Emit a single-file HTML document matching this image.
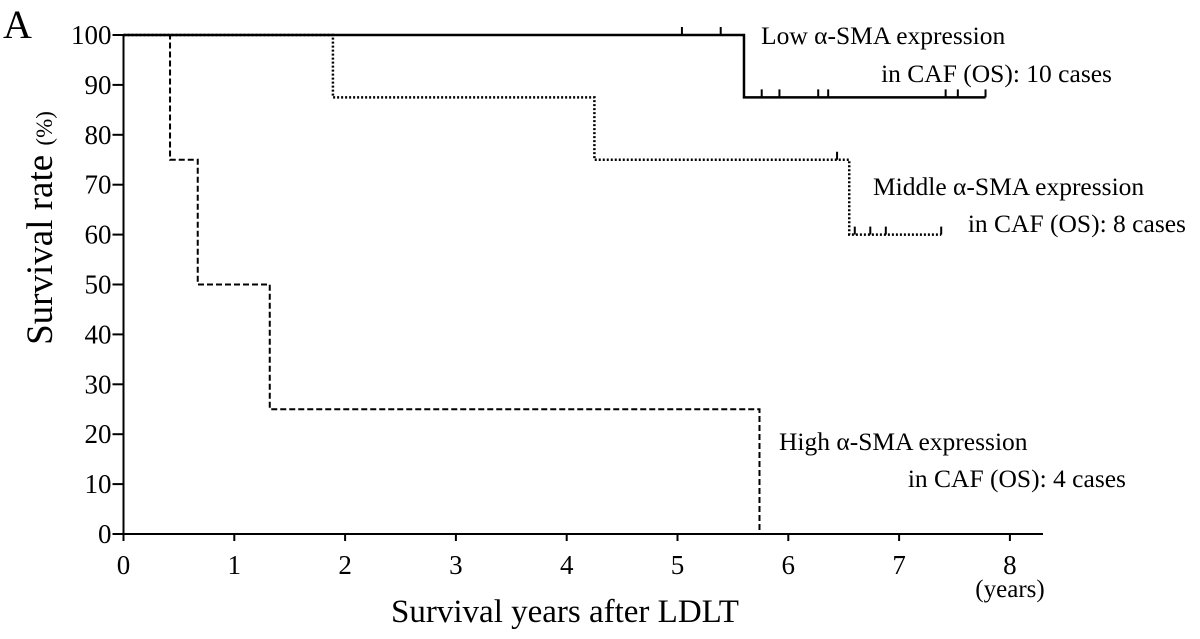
<!DOCTYPE html>
<html><head><meta charset="utf-8"><style>
body{margin:0;background:#fff}
svg{display:block;font-family:"Liberation Serif",serif}
</style></head><body>
<svg id="chart" width="1200" height="639" viewBox="0 0 1200 639" xmlns="http://www.w3.org/2000/svg">
<text x="3" y="38" font-size="40">A</text>
<g id="axes"></g>
<g id="series"></g>
<text x="565" y="622" font-size="33" text-anchor="middle">Survival years after LDLT</text>
<text x="1010" y="597" font-size="25" text-anchor="middle">(years)</text>
<text transform="translate(52,228) rotate(-90)" font-size="37" text-anchor="middle">Survival  rate <tspan font-size="23">(%)</tspan></text>
<g font-size="25.5">
<text x="761" y="44">Low α-SMA expression</text>
<text x="1112" y="82" text-anchor="end">in CAF (OS): 10 cases</text>
<text x="873" y="195">Middle α-SMA expression</text>
<text x="1186" y="232" text-anchor="end">in CAF (OS): 8 cases</text>
<text x="779" y="450">High α-SMA expression</text>
<text x="1126" y="487" text-anchor="end">in CAF (OS): 4 cases</text>
</g>
</svg>
<script>
const xTicks=[0,1,2,3,4,5,6,7,8];
const yTicks=[0,10,20,30,40,50,60,70,80,90,100];
const lowTimes=[0,5.6,7.78];
const lowSurv=[100,87.5,87.5];
const lowCensorT=[5.04,5.39,5.76,5.92,6.27,6.36,7.42,7.53,7.78];
const lowCensorS=[100,100,87.5,87.5,87.5,87.5,87.5,87.5,87.5];
const midTimes=[0,1.89,4.25,6.55,7.38];
const midSurv=[100,87.5,75,60,60];
const midCensorT=[6.44,6.6,6.74,6.88,7.38];
const midCensorS=[75,60,60,60,60];
const highTimes=[0,0.42,0.67,1.32,5.74];
const highSurv=[100,75,50,25,0];
const highEnd=5.74;
const NS="http://www.w3.org/2000/svg";
const X=t=>123.5+t*110.8, Y=s=>534-s*4.99;
function mk(tag,attrs,parent){const e=document.createElementNS(NS,tag);for(const k in attrs)e.setAttribute(k,attrs[k]);parent.appendChild(e);return e;}
const ax=document.getElementById('axes');
let e=mk('line',{x1:X(0),y1:Y(0),x2:1043,y2:Y(0),stroke:'#000','stroke-width':2},ax);


e=mk('line',{x1:X(0),y1:Y(0)+5,x2:X(0),y2:Y(100),stroke:'#000','stroke-width':2},ax);


xTicks.forEach(t=>{
 let l=mk('line',{x1:X(t),y1:Y(0),x2:X(t),y2:Y(0)+7,stroke:'#000','stroke-width':2},ax);
 
 
 let tx=mk('text',{x:X(t),y:Y(0)+40,'font-size':27,'text-anchor':'middle'},ax);tx.textContent=t;
 
 
});
yTicks.forEach(s=>{
 let l=mk('line',{x1:X(0)-11,y1:Y(s),x2:X(0),y2:Y(s),stroke:'#000','stroke-width':2},ax);
 
 
 let tx=mk('text',{x:X(0)-12,y:Y(s)+9,'font-size':27,'text-anchor':'end'},ax);tx.textContent=s;
 
 
});
const sg=document.getElementById('series');
function step(times,surv,end,dash,width,name){
 let d='M'+X(times[0])+','+Y(surv[0]);
 for(let i=1;i<times.length;i++){d+=' H'+X(times[i])+' V'+Y(surv[i]);}
 if(end!=null)d+=' H'+X(end);
 const p=mk('path',{d:d,fill:'none',stroke:'#000','stroke-width':width,'stroke-dasharray':dash},sg);
 
 
}
function cens(ts,ss,name){
 ts.forEach((t,i)=>{const l=mk('line',{x1:X(t),y1:Y(ss[i]),x2:X(t),y2:Y(ss[i])-8,stroke:'#000','stroke-width':2},sg);
 
 });
}
step(lowTimes,lowSurv,null,'none',2.5,'low-sma-curve');
cens(lowCensorT,lowCensorS,'low-censor-mark');
step(midTimes,midSurv,null,'2 2',2.5,'middle-sma-curve');
cens(midCensorT,midCensorS,'middle-censor-mark');
step(highTimes,highSurv,highEnd,'6 3',2,'high-sma-curve');
</script>
</body></html>
